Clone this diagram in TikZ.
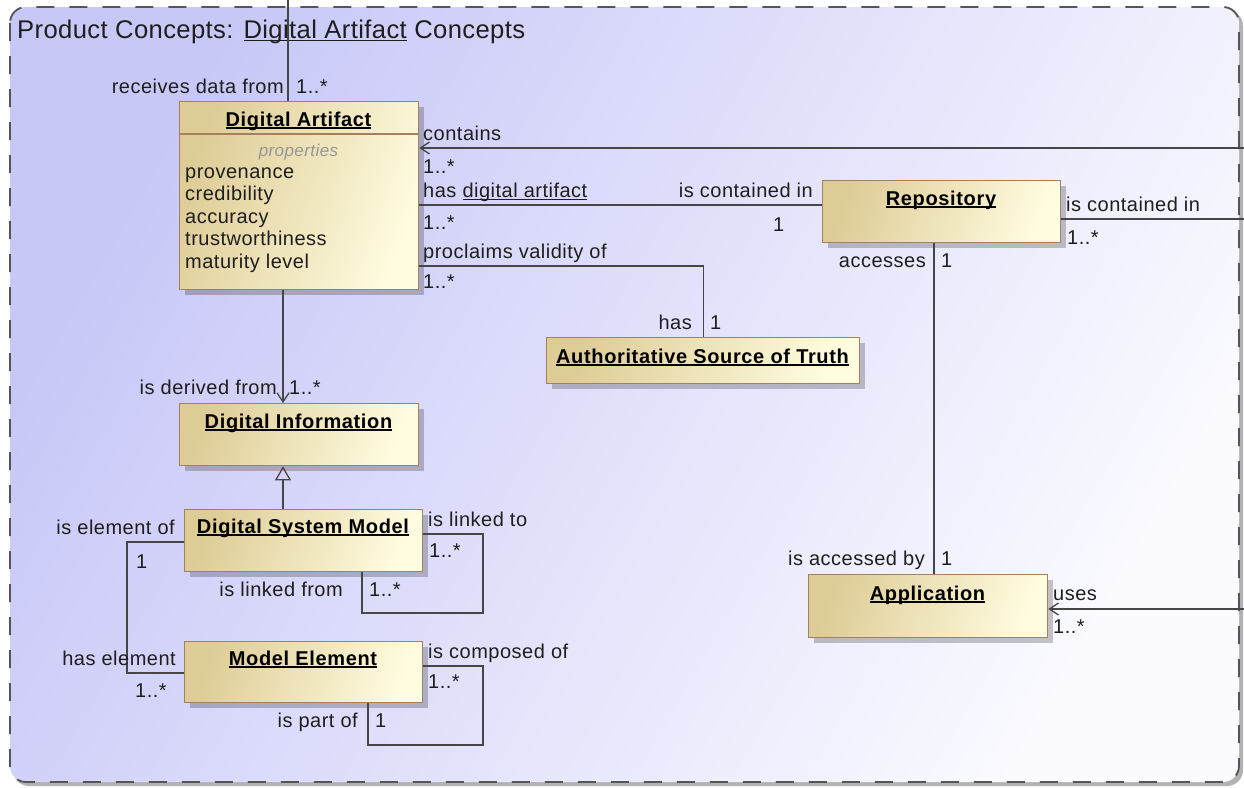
\documentclass[tikz,border=0pt]{standalone}
\usepackage{fontspec}
\setmainfont{Liberation Sans}[LetterSpace=2.5, BoldFeatures={LetterSpace=3.2}]
\newfontfamily\titlefont{Liberation Sans}[LetterSpace=1.5]
\usetikzlibrary{arrows.meta,shadows}

\definecolor{framedark}{RGB}{200,200,248}
\definecolor{framelight}{RGB}{250,250,255}
\definecolor{framedash}{RGB}{85,85,85}
\definecolor{clsdark}{RGB}{222,204,150}
\definecolor{clslight}{RGB}{255,252,224}
\definecolor{clsborder}{RGB}{165,128,92}
\definecolor{wire}{RGB}{70,70,70}
\definecolor{ink}{RGB}{30,30,30}
\definecolor{propgray}{RGB}{150,150,150}

% underline with a given offset below the baseline and a given thickness
\newcommand\ulwith[3]{\leavevmode\setbox0\hbox{#3}\rlap{\rule[#1]{\wd0}{#2}}\box0\relax}

\begin{document}
\begin{tikzpicture}[x=1pt,y=-1pt,
  lbl/.style={font=\fontsize{20}{24}\selectfont, text=ink, inner sep=0pt},
  lw/.style={lbl, anchor=base west},
  le/.style={lbl, anchor=base east},
  cls/.style={draw=clsborder, line width=1.3pt, anchor=north west,
    left color=clsdark, right color=clslight, shading angle=70,
    drop shadow={shadow xshift=5pt, shadow yshift=-5pt, fill=black, opacity=0.22}},
  clstitle/.style={font=\fontsize{20}{24}\selectfont\bfseries, text=black, inner sep=0pt, anchor=base},
  attr/.style={lbl, anchor=base west},
  wireline/.style={draw=wire, line width=1.3pt},
  assocto/.style={wireline, -{Straight Barb[length=9pt,width=12pt]}},
  generalize/.style={wireline, -{Triangle[open, length=14pt, width=16pt]}}
]
\useasboundingbox (0,0) rectangle (1244,787);

% frame with its shadow
\fill[black!30, rounded corners=16pt] (13,10) rectangle (1243,786);
\draw[framedash, line width=1.8pt, dash pattern=on 18pt off 15pt, rounded corners=16pt,
  left color=framedark, right color=framelight, shading angle=60] (10,7) rectangle (1239,782);

\node[lbl, font=\titlefont\fontsize{25.6}{30}\selectfont, anchor=base west] (title) at (17,38)
  {Product Concepts: \ulwith{-3pt}{1.5pt}{Digital Artifact} Concepts};

% classes
\node[cls, minimum width=239pt, minimum height=188pt] (da) at (179,101) {};
\draw[clsborder, line width=1.1pt] (da.west |- 0,134) -- (da.east |- 0,134);
\node[clstitle] (datitle) at (298.5,126) {\ulwith{-2.8pt}{1.5pt}{Digital Artifact}};
\node[lbl, anchor=base, font=\fontsize{17}{20}\selectfont\itshape, text=propgray] (daprops) at (298.5,156) {properties};
\node[attr] (a1) at (185,178) {provenance};
\node[attr] (a2) at (185,200.5) {credibility};
\node[attr] (a3) at (185,223) {accuracy};
\node[attr] (a4) at (185,245.5) {trustworthiness};
\node[attr] (a5) at (185,268) {maturity level};

\node[cls, minimum width=238pt, minimum height=62pt] (repo) at (822,180) {};
\node[clstitle] (repotitle) at (941,205) {\ulwith{-2.8pt}{1.5pt}{Repository}};

\node[cls, minimum width=313pt, minimum height=46pt] (ast) at (546,337) {};
\node[clstitle] (asttitle) at (702.5,363) {\ulwith{-2.8pt}{1.5pt}{Authoritative Source of Truth}};

\node[cls, minimum width=239pt, minimum height=62pt] (di) at (179,403) {};
\node[clstitle] (dititle) at (298.5,428) {\ulwith{-2.8pt}{1.5pt}{Digital Information}};

\node[cls, minimum width=238pt, minimum height=62pt] (dsm) at (184,509) {};
\node[clstitle] (dsmtitle) at (303,533) {\ulwith{-2.8pt}{1.5pt}{Digital System Model}};

\node[cls, minimum width=238pt, minimum height=61pt] (me) at (184,641) {};
\node[clstitle] (metitle) at (303,665) {\ulwith{-2.8pt}{1.5pt}{Model Element}};

\node[cls, minimum width=239pt, minimum height=63pt] (app) at (808,574) {};
\node[clstitle] (apptitle) at (927.5,600) {\ulwith{-2.8pt}{1.5pt}{Application}};

% free ends of associations leaving the frame
\coordinate (topin) at (288,0);
\coordinate (cin) at (1244,148);
\coordinate (repoout) at (1244,219);
\coordinate (usesin) at (1244,609);

% associations
\draw[wireline] (topin) -- (topin |- da.north);
\node[le] (l1) at (284,93) {receives data from};
\node[lw] (m1) at (296,93) {1..*};

\draw[assocto] (cin) -- (cin -| da.east);
\node[lw] (l2) at (423,140) {contains};
\node[lw] (m2) at (423,173) {1..*};

\draw[wireline] (da.east |- 0,205) -- (repo.west |- 0,205);
\node[lw] (l3) at (423,197) {has \ulwith{-3pt}{1.1pt}{digital artifact}};
\node[lw] (m3) at (423,229) {1..*};
\node[le] (l4) at (813,197) {is contained in};
\node[lw] (m4) at (773,231) {1};

\draw[wireline] (da.east |- 0,266) -| (ast.north);
\node[lw] (l5) at (423,258) {proclaims validity of};
\node[lw] (m5) at (423,288) {1..*};
\node[le] (l6) at (692,329) {has};
\node[lw] (m6) at (710,329) {1};

\draw[wireline] (repo.east |- repoout) -- (repoout);
\node[lw] (l7) at (1066,211) {is contained in};
\node[lw] (m7) at (1067,244) {1..*};

\draw[wireline] (repo.south -| 934,0) -- (app.north -| 934,0);
\node[le] (l8) at (926,267) {accesses};
\node[lw] (m8) at (941,267) {1};
\node[le] (l9) at (925,565) {is accessed by};
\node[lw] (m9) at (941,565) {1};

\draw[assocto] (usesin) -- (usesin -| app.east);
\node[lw] (l10) at (1053,600) {uses};
\node[lw] (m10) at (1053,633) {1..*};

\draw[assocto] (da.south -| 283,0) -- (di.north -| 283,0);
\node[le] (l11) at (277,394) {is derived from};
\node[lw] (m11) at (289,394) {1..*};

\draw[generalize] (dsm.north -| 283,0) -- (di.south -| 283,0);

\draw[wireline] (dsm.east |- 0,534) -- (483,534) -- (483,613) -- (362,613) -- (dsm.south -| 362,0);
\node[lw] (l12) at (428,526) {is linked to};
\node[lw] (m12) at (429,557) {1..*};
\node[le] (l13) at (343,596) {is linked from};
\node[lw] (m13) at (369,596) {1..*};

\draw[wireline] (dsm.west |- 0,542) -- (127,542) -- (127,673) -- (me.west |- 0,673);
\node[le] (l14) at (175,534) {is element of};
\node[lw] (m14) at (136,568) {1};
\node[le] (l15) at (176,665) {has element};
\node[lw] (m15) at (135,697) {1..*};

\draw[wireline] (me.east |- 0,666) -- (483,666) -- (483,745) -- (368,745) -- (me.south -| 368,0);
\node[lw] (l16) at (428,658) {is composed of};
\node[lw] (m16) at (428,688) {1..*};
\node[le] (l17) at (358,727) {is part of};
\node[lw] (m17) at (375,727) {1};
\end{tikzpicture}
\end{document}
